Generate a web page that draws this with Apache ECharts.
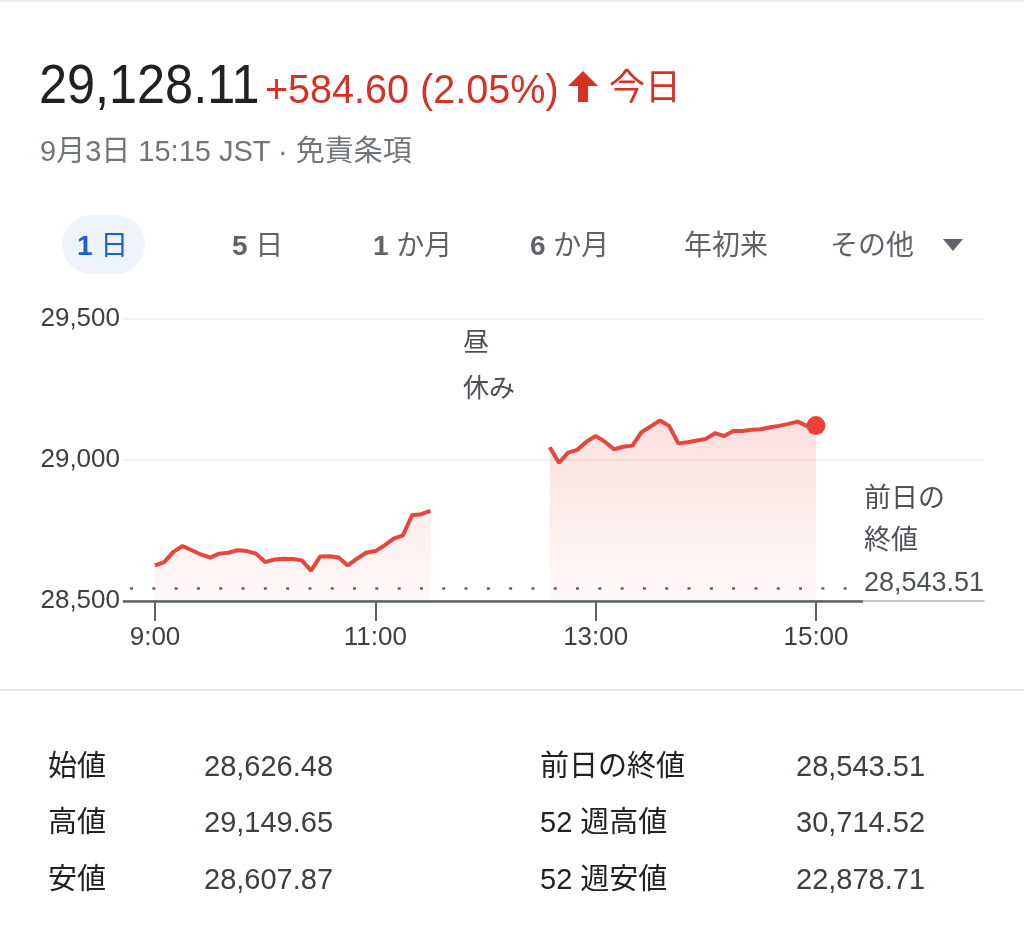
<!DOCTYPE html>
<html><head><meta charset="utf-8">
<script src="https://cdn.jsdelivr.net/npm/echarts@6/dist/echarts.min.js"></script>
<style>
html,body{margin:0;padding:0;background:#fff;width:1024px;height:926px;overflow:hidden;font-family:"Liberation Sans","Noto Sans CJK JP",sans-serif;}
#chart{position:absolute;left:0;top:0;width:1024px;height:926px;}
.t{position:absolute;white-space:nowrap;line-height:1;}
.tab{position:absolute;white-space:nowrap;line-height:1;font-size:28px;color:#5f6368;top:232px;}
.tab b{font-weight:bold;}
.lbl{position:absolute;white-space:nowrap;line-height:1;font-size:29px;color:#202124;}
.val{position:absolute;white-space:nowrap;line-height:1;font-size:29px;color:#3c4043;}
</style></head><body>
<div id="chart"></div>
<div class="t" style="left:0;top:0;width:1024px;height:2px;background:#e9e9ee"></div>
<div class="t" style="left:39px;top:56px;font-size:56px;color:#202124;transform:scaleX(0.9);transform-origin:left center;">29,128.11</div>
<div class="t" style="left:265px;top:69px;font-size:41px;color:#d93025;transform:scaleX(0.965);transform-origin:left center;">+584.60 (2.05%)</div>
<div class="t" style="left:568px;top:71px;width:0;height:0;border-left:15px solid transparent;border-right:15px solid transparent;border-bottom:15px solid #d93025;"></div>
<div class="t" style="left:578px;top:85px;width:10px;height:17px;background:#d93025;"></div>
<div class="t" style="left:609px;top:70px;font-size:36px;color:#d93025;">今日</div>
<div class="t" style="left:40px;top:137px;font-size:29px;color:#70757a;">9月3日 15:15 JST · 免責条項</div>

<div class="t" style="left:62px;top:215px;width:83px;height:59px;border-radius:30px;background:#eff3fa;"></div>
<div class="tab" style="left:77px;color:#1b5fd6;"><b>1</b> 日</div>
<div class="tab" style="left:232px;"><b>5</b> 日</div>
<div class="tab" style="left:373px;"><b>1</b> か月</div>
<div class="tab" style="left:530px;"><b>6</b> か月</div>
<div class="tab" style="left:684px;">年初来</div>
<div class="tab" style="left:830px;">その他</div>
<div class="t" style="left:943px;top:239px;width:0;height:0;border-left:10px solid transparent;border-right:10px solid transparent;border-top:12px solid #5f6368;"></div>

<div class="t" style="left:0;top:689px;width:1024px;height:2px;background:#e6e6e6"></div>

<div class="lbl" style="left:48px;top:752px;">始値</div>
<div class="val" style="left:204px;top:752px;">28,626.48</div>
<div class="lbl" style="left:48px;top:808px;">高値</div>
<div class="val" style="left:204px;top:808px;">29,149.65</div>
<div class="lbl" style="left:48px;top:865px;">安値</div>
<div class="val" style="left:204px;top:865px;">28,607.87</div>
<div class="lbl" style="left:540px;top:752px;">前日の終値</div>
<div class="val" style="left:796px;top:752px;">28,543.51</div>
<div class="lbl" style="left:540px;top:808px;">52 週高値</div>
<div class="val" style="left:796px;top:808px;">30,714.52</div>
<div class="lbl" style="left:540px;top:865px;">52 週安値</div>
<div class="val" style="left:796px;top:865px;">22,878.71</div>

<script>
// ---- data ----
const morningStart = '9:00';
const afternoonStart = '12:35';
const stepMinutes = 5;
const morningValues = [28626, 28638, 28674, 28695, 28680, 28665, 28654, 28668, 28671, 28680,
  28677, 28668, 28638, 28647, 28650, 28649, 28644, 28608, 28658, 28659,
  28654, 28626, 28650, 28671, 28677, 28697, 28721, 28733, 28804, 28808, 28820];
const afternoonValues = [29045, 28990, 29026, 29036, 29065, 29085, 29065, 29038, 29047, 29051,
  29099, 29119, 29140, 29121, 29059, 29063, 29069, 29075, 29095, 29085,
  29103, 29103, 29107, 29109, 29116, 29121, 29128, 29136, 29121, 29122];
const prevClose = 28543.51;
const xTickLabels = ['9:00', '11:00', '13:00', '15:00'];
const yTicks = [28500, 29000, 29500];
const lunchLabel = '昼\n休み';
const lunchStart = '11:30';
const lunchEnd = '12:30';
const prevCloseTitle = '前日の\n終値';

// ---- helpers ----
function toMin(s){ const p = s.split(':'); return (+p[0]) * 60 + (+p[1]); }
function fmtMin(m){ const h = Math.floor(m / 60), mm = Math.round(m % 60); return h + ':' + (mm < 10 ? '0' : '') + mm; }
function series(start, vals){ const s = toMin(start); return vals.map((v, i) => [s + i * stepMinutes, v]); }
const morningData = series(morningStart, morningValues);
const afternoonData = series(afternoonStart, afternoonValues);
const xTickMinutes = xTickLabels.map(toMin);
const lastPoint = afternoonData[afternoonData.length - 1];

// layout (axis extent)
const xMin = 522.57, xMax = 991.5, axisEnd = 925.6, dotsStart = 526.4;
const FONT = '"Liberation Sans","Noto Sans CJK JP",sans-serif';

const area = new echarts.graphic.LinearGradient(0, 420, 0, 601, [
  {offset: 0, color: 'rgba(234,67,53,0.24)'},
  {offset: 1, color: 'rgba(234,67,53,0.04)'}
], true);

const chart = echarts.init(document.getElementById('chart'), null, {renderer: 'canvas'});
chart.setOption({
  animation: false,
  textStyle: {fontFamily: FONT},
  grid: {left: 123, right: 40, top: 319, bottom: 325, containLabel: false},
  xAxis: {
    type: 'value', min: xMin, max: xMax,
    axisLine: {show: true, lineStyle: {color: '#b3b6ba', width: 1.5}},
    axisTick: {show: true, customValues: xTickMinutes, length: 20, lineStyle: {color: '#5f6368', width: 2}},
    axisLabel: {customValues: xTickMinutes, formatter: v => fmtMin(v), fontSize: 26, color: '#3c4043', margin: 24, fontFamily: FONT},
    splitLine: {show: false}
  },
  yAxis: {
    type: 'value', min: yTicks[0], max: yTicks[yTicks.length - 1], interval: yTicks[1] - yTicks[0],
    axisLine: {show: false}, axisTick: {show: false},
    axisLabel: {formatter: v => v.toLocaleString('en-US'), fontSize: 26, color: '#3c4043', margin: 3, fontFamily: FONT, padding: [5, 0, 0, 0]},
    splitLine: {lineStyle: {color: '#efefef', width: 1.5}}
  },
  series: [
    {
      type: 'line', data: morningData, showSymbol: false, smooth: false,
      lineStyle: {color: '#e8453c', width: 4}, itemStyle: {color: '#e8453c'},
      areaStyle: {color: area, origin: 'start'}, z: 3
    },
    {
      type: 'line', data: afternoonData, showSymbol: false, smooth: false,
      lineStyle: {color: '#e8453c', width: 4}, itemStyle: {color: '#e8453c'},
      areaStyle: {color: area, origin: 'start'}, z: 3,
      markLine: {
        silent: true, symbol: ['none', 'none'], label: {show: false},
        data: [
          [{coord: [dotsStart, prevClose], lineStyle: {color: '#5f6368', width: 2.5, type: [3, 19.3]}}, {coord: [axisEnd, prevClose]}],
          [{coord: [xMin, yTicks[0]], lineStyle: {color: '#5f6368', width: 2.5, type: 'solid'}}, {coord: [axisEnd, yTicks[0]]}]
        ]
      },
      markPoint: {
        silent: true, symbol: 'rect', symbolSize: 1, itemStyle: {color: 'rgba(0,0,0,0)'},
        data: [
          {coord: [axisEnd, yTicks[0]], label: {show: true, position: [1.5, 4.5], align: 'left', verticalAlign: 'bottom',
            formatter: prevCloseTitle + '\n' + prevClose.toLocaleString('en-US', {minimumFractionDigits: 2}),
            fontSize: 27, lineHeight: 42, color: '#4d5156', fontFamily: FONT}},
          {coord: [(toMin(lunchStart) + toMin(lunchEnd)) / 2, yTicks[yTicks.length - 1]], label: {show: true, position: [-22, 2], align: 'left', verticalAlign: 'top',
            formatter: lunchLabel, fontSize: 26, lineHeight: 46, color: '#4d5156', fontFamily: FONT}}
        ]
      }
    },
    {
      type: 'scatter', data: [lastPoint], symbolSize: 19, itemStyle: {color: '#ea4335', opacity: 1}, z: 5, silent: true
    }
  ]
});
</script>
</body></html>
